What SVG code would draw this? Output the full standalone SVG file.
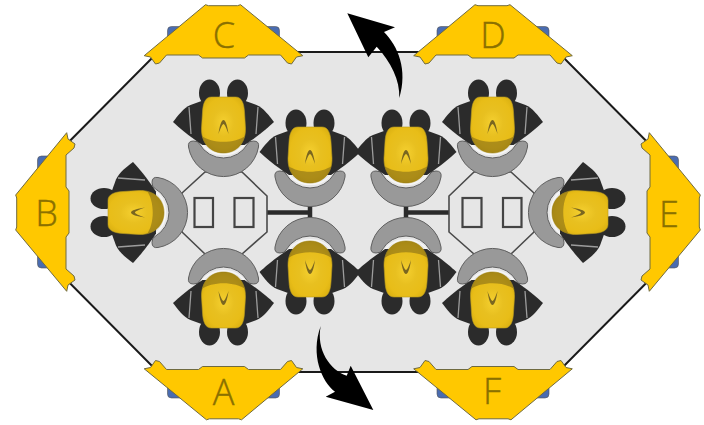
<svg xmlns="http://www.w3.org/2000/svg" width="704" height="425" viewBox="0 0 704 425">
<style>
.lbl{font-family:"Open Sans","Liberation Sans",sans-serif;font-size:36px;font-weight:300;fill:#8a7000;stroke:#8a7000;stroke-width:0.4;text-anchor:middle}
.tbl{fill:none;stroke:#4a4a4a;stroke-width:1.6}
.seat{fill:none;stroke:#444;stroke-width:2.2}
.bar{fill:none;stroke:#2b2b2b;stroke-width:4.500}
</style>
<defs>
<radialGradient id="hg" cx="50%" cy="46%" r="60%">
<stop offset="0" stop-color="#f5d030"/><stop offset="0.4" stop-color="#e8c020"/><stop offset="0.75" stop-color="#e8bd18"/><stop offset="1" stop-color="#d8ae10"/>
</radialGradient>
<clipPath id="hc"><path d="M-12,-25 H12 C18,-25 20.500,-19 21,-10 L22,6 C22.500,21 13,31 0,31 C-13,31 -22.500,21 -22,6 L-21,-10 C-20.500,-19 -18,-25 -12,-25Z"/></clipPath>
<g id="person">
<ellipse cx="-14" cy="-29" rx="10.500" ry="13.500" fill="#2b2b2b"/>
<ellipse cx="14" cy="-29" rx="10.500" ry="13.500" fill="#2b2b2b"/>
<path d="M-50.500,0 C-46,-6 -40,-14 -33,-17 L-22,-21 H22 L33,-17 C40,-14 46,-6 50.500,0 C44,6 36,13 21,23 H-21 C-36,13 -44,6 -50.500,0Z" fill="#2b2b2b"/>
<path d="M-34.500,-15 L-32.500,12 M34.500,-15 L32.500,12" stroke="#9c9c9c" stroke-width="1.3" fill="none"/>
<path d="M-12,-25 H12 C18,-25 20.500,-19 21,-10 L22,6 C22.500,21 13,31 0,31 C-13,31 -22.500,21 -22,6 L-21,-10 C-20.500,-19 -18,-25 -12,-25Z" fill="url(#hg)" stroke="#b89a20" stroke-width="0.6"/>
<path d="M-23,13 C-12,22 12,22 23,13 V32 H-23Z" fill="#6f5c18" fill-opacity="0.5" clip-path="url(#hc)"/>
<path d="M-5,12 C-4,4 -2,-2 0,-2 C2,-2 4,4 5,12 C3,6 1,2 0,2 C-1,2 -3,6 -5,12Z" fill="#7a6620"/>
</g>
<g id="chair">
<path d="M-35,25 A35.500,35.500 0 0 0 35,25 Q36,19 30,19 Q25,19 24,22 A27.600,27.600 0 0 1 -24,22 Q-25,19 -30,19 Q-36,19 -35,25Z" fill="#999" stroke="#5f5f5f" stroke-width="1"/>
<path d="M-23,20 A27.600,27.600 0 0 0 23,20" fill="none" stroke="#f6f6f6" stroke-width="1.500"/>
</g>
<g id="gate">
<rect x="-28.500" y="-56" width="18" height="112" rx="4" fill="#4a6cb0" stroke="#555" stroke-width="0.6"/>
<path d="M0.7,-79.300 L2,-73 L9,-68 L8,-64 L0,-57 V-25 L3,-21 V21 L0,25 V57 L8,64 L9,68 L2,73 L0.7,79.300 L-50.300,18 L-49.300,15 V-14 L-50.300,-17Z" fill="#ffc800" stroke="#6f6a40" stroke-width="1"/>
</g>
<g id="table">
<path class="tbl" d="M205,172 H242 L267,196 V232 L242,254 H205 L182,232 V193Z"/>
<rect class="seat" x="194.500" y="198" width="18.500" height="29"/>
<rect class="seat" x="234.500" y="198" width="19" height="29"/>
</g>
</defs>
<g id="floor"><path d="M158,52 H558 L675,170 V254 L558,372 H158 L41,254 V170Z" fill="#e6e6e6" stroke="#1a1a1a" stroke-width="2"/></g>
<g id="connectors">
<path class="bar" d="M267,212.500 H310 M310,200 V225"/>
<path class="bar" d="M449,212.500 H406 M406,200 V225"/>
<path d="M347.300,13.300 L395,27.300 L384,32 C398,46 408,70 399.300,98 C400,80 391,62 376.700,46.700 L368.300,57.300Z" fill="#000"/>
<path d="M320.700,326 C316,350 330,370 346.700,375.700 L350.700,365.700 L373.300,410 L325.700,396.700 L335,391.700 C322,382 310,355 320.700,326Z" fill="#000"/>
</g>
<g id="table-left"><use href="#table"/></g>
<g id="table-right" transform="translate(716,0) scale(-1,1)"><use href="#table"/></g>
<g id="seat-1" transform="translate(223.500,122)"><use href="#chair"/><use href="#person"/></g>
<g id="seat-2" transform="translate(310,152)"><use href="#chair"/><use href="#person"/></g>
<g id="seat-3" transform="translate(406,152)"><use href="#chair"/><use href="#person"/></g>
<g id="seat-4" transform="translate(492.500,122)"><use href="#chair"/><use href="#person"/></g>
<g id="seat-5" transform="translate(223.500,303) rotate(180)"><use href="#chair"/><use href="#person"/></g>
<g id="seat-6" transform="translate(310,272) rotate(180)"><use href="#chair"/><use href="#person"/></g>
<g id="seat-7" transform="translate(406,272) rotate(180)"><use href="#chair"/><use href="#person"/></g>
<g id="seat-8" transform="translate(492.500,303) rotate(180)"><use href="#chair"/><use href="#person"/></g>
<g id="seat-9" transform="translate(133,212.500) rotate(-90)"><use href="#chair"/><use href="#person"/></g>
<g id="seat-10" transform="translate(583,212.500) rotate(90)"><use href="#chair"/><use href="#person"/></g>
<g id="gate-A"><use href="#gate" transform="translate(223.500,369.500) rotate(-90)"/><text class="lbl" x="223.500" y="405">A</text></g>
<g id="gate-B"><use href="#gate" transform="translate(66,212)"/><text class="lbl" x="46.500" y="226">B</text></g>
<g id="gate-C"><use href="#gate" transform="translate(223.500,55) rotate(90)"/><text class="lbl" x="224" y="48">C</text></g>
<g id="gate-D"><use href="#gate" transform="translate(493,55) rotate(90)"/><text class="lbl" x="493" y="48">D</text></g>
<g id="gate-E"><use href="#gate" transform="translate(650,212) scale(-1,1)"/><text class="lbl" x="669" y="227">E</text></g>
<g id="gate-F"><use href="#gate" transform="translate(493,369.500) rotate(-90)"/><text class="lbl" x="492" y="404">F</text></g>
</svg>
